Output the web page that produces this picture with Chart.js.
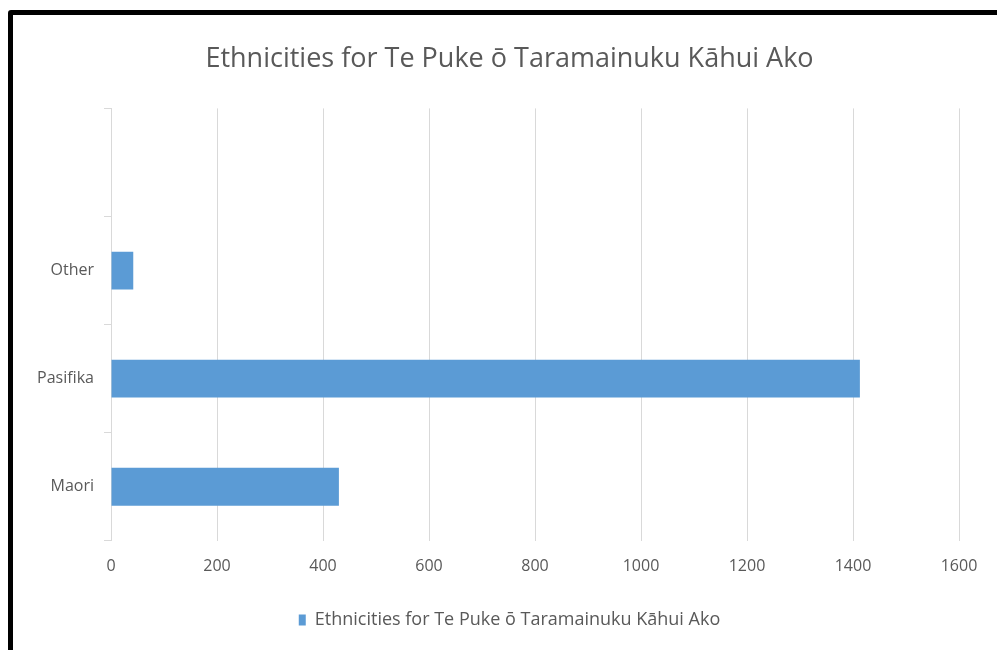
<!DOCTYPE html>
<html>
<head>
<meta charset="utf-8">
<script src="https://cdn.jsdelivr.net/npm/chart.js@4.4.1/dist/chart.umd.min.js"></script>
<style>
  body { margin: 0; background: #fff; overflow: hidden; }
  #wrap { position: absolute; left: 0; top: 0; width: 997px; height: 650px; }
  #frame { position: absolute; left: 8px; top: 10px; width: 1100px; height: 800px;
           border: 5px solid #000; border-radius: 3px; pointer-events: none; }
</style>
</head>
<body>
<div id="wrap"><canvas id="mychart" width="997" height="650"></canvas></div>
<div id="frame"></div>
<script>
// chart data
const title = 'Ethnicities for Te Puke ō Taramainuku Kāhui Ako'
const categories = ['Maori', 'Pasifika', 'Other', '']
const counts = [430, 1413, 42, null]
const xTicks = [0, 200, 400, 600, 800, 1000, 1200, 1400, 1600]

const font = "'Open Sans', sans-serif"
const grey = '#595959'

const data = {
    labels: categories,
    datasets: [{
        label: title,
        data: counts,
        backgroundColor: '#5b9bd5',
        barPercentage: 0.35,
        categoryPercentage: 1
    }]
};

// title and legend are centred a bit right of the canvas middle in the original
const nudgeCentre = {
    id: 'nudgeCentre',
    afterLayout(chart) {
        chart.titleBlock.left += 40
        chart.legend.left += 40
    }
};

const config = {
    type: 'bar',
    data,
    plugins: [nudgeCentre],
    options: {
        indexAxis: 'y',
        responsive: false,
        animation: false,
        layout: { padding: { left: 20, right: 38, top: 43, bottom: 11 } },
        plugins: {
            title: {
                display: true,
                text: title,
                color: grey,
                font: { family: font, size: 27, weight: 'normal' },
                padding: { top: 0, bottom: 33 }
            },
            legend: {
                position: 'bottom',
                labels: {
                    color: grey,
                    font: { family: font, size: 18 },
                    boxWidth: 7,
                    boxHeight: 11,
                    padding: 19
                }
            },
            tooltip: { enabled: false }
        },
        scales: {
            x: {
                min: 0,
                max: xTicks[xTicks.length - 1],
                afterBuildTicks: scale => { scale.ticks = xTicks.map(v => ({ value: v })) },
                grid: { color: '#d9d9d9', drawTicks: false },
                border: { display: false },
                ticks: {
                    color: grey,
                    font: { family: font, size: 16 },
                    padding: 16,
                    callback: v => String(v) // no thousands separator
                }
            },
            y: {
                reverse: true,
                grid: { drawOnChartArea: false, color: '#d9d9d9', tickLength: 7, offset: true },
                border: { color: '#d9d9d9' },
                ticks: { color: grey, font: { family: font, size: 16 }, padding: 10 },
                afterFit: scale => { scale.width = 91 }
            }
        }
    }
};

let myChart = new Chart(document.getElementById('mychart'), config);
</script>
</body>
</html>
